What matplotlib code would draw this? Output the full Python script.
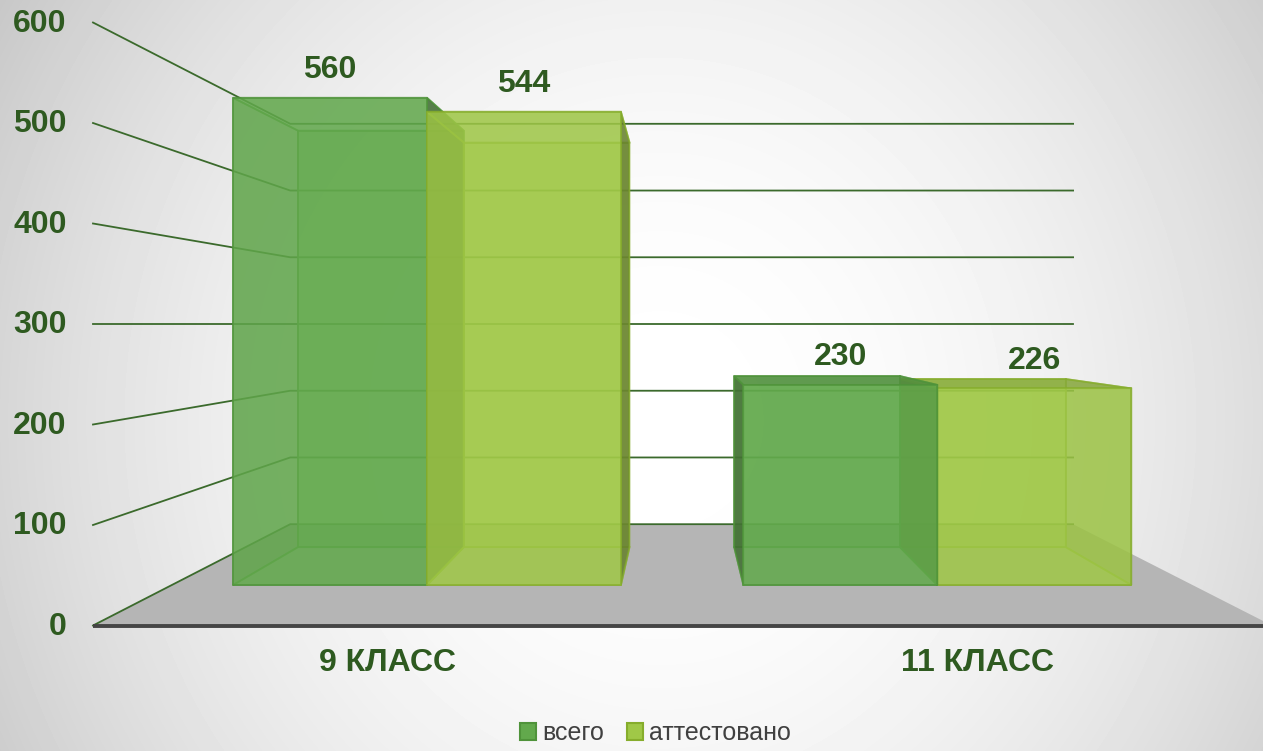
import numpy as np
import matplotlib.pyplot as plt
from matplotlib.patches import Polygon, Patch
from matplotlib.colors import to_rgb

plt.rcParams['font.family'] = ['Liberation Sans', 'DejaVu Sans']

categories = ["9 КЛАСС", "11 КЛАСС"]
series = ["всего", "аттестовано"]
vsego = [560, 230]
attest = [544, 226]
yticks = [0, 100, 200, 300, 400, 500, 600]

W, H = 1263, 751
# perspective set-up (screen pixels)
VX, EYE_Y, EYE_V = 680, 324, 300   # vanishing x, horizon y, value at eye level
PX = 1.005                          # px per unit on the front plane
K = 0.506                           # depth shrink
FX0, FX1 = 93, 1272                 # floor span on front plane
BW = 0.38                           # bar width (category units)
D0, D1 = 0.306, 0.694               # bar depth range

base_cols = ["#62a94c", "#a0c847"]
edge_cols = ["#4f933a", "#86ad2c"]
txt_col = "#2e5a20"


def proj(c, v, d):
    X = FX0 + (FX1 - FX0) * c / len(categories)
    Y = EYE_Y - (v - EYE_V) * PX
    s = 1.0 / (1.0 + K * d)
    return VX + (X - VX) * s, EYE_Y + (Y - EYE_Y) * s


def shade(col, f):
    r, g, b = to_rgb(col)
    return (r * f, g * f, b * f)


fig = plt.figure(figsize=(W / 100, H / 100), dpi=100)
ax = fig.add_axes([0, 0, 1, 1])
ax.set_xlim(0, W)
ax.set_ylim(H, 0)
ax.axis("off")

# background gradient
yy, xx = np.mgrid[0:H, 0:W]
r = np.sqrt(((xx - 660) / 660.0) ** 2 + ((yy - 420) / 700.0) ** 2)
bg = 1 - 0.16 * np.clip(r, 0, 1.3) ** 2
ax.imshow(bg, cmap="gray", vmin=0, vmax=1, extent=(0, W, H, 0), zorder=0, aspect="auto")

# floor
nc = len(categories)
floor = [proj(0, 0, 0), proj(nc, 0, 0), proj(nc, 0, 1), proj(0, 0, 1)]
ax.add_patch(Polygon(floor, closed=True, fc="#b5b5b5", ec="none", zorder=1))

# gridlines: left wall + back wall
for t in yticks:
    pts = [proj(0, t, 0), proj(0, t, 1), proj(nc, t, 1)]
    ax.plot([p[0] for p in pts], [p[1] for p in pts], color="#3b6a2c", lw=1.3, zorder=2)

# front axis line
a0, a1 = proj(0, 0, 0), proj(nc, 0, 0)
ax.plot([a0[0], a1[0]], [a0[1], a1[1]], color="#454545", lw=2.8, zorder=2, solid_capstyle="butt")

# bars
bars = []
for i in range(nc):
    for j, vals in enumerate([vsego, attest]):
        c0 = i + 0.5 - BW + j * BW
        bars.append((c0, c0 + BW, vals[i], j))
bars.sort(key=lambda b: -abs(proj((b[0] + b[1]) / 2, 0, 0)[0] - VX))

z = 3
for c0, c1, val, j in bars:
    col = base_cols[j]
    faces = {
        "front": [(c0, 0, D0), (c1, 0, D0), (c1, val, D0), (c0, val, D0)],
        "back": [(c0, 0, D1), (c1, 0, D1), (c1, val, D1), (c0, val, D1)],
        "left": [(c0, 0, D0), (c0, 0, D1), (c0, val, D1), (c0, val, D0)],
        "right": [(c1, 0, D0), (c1, 0, D1), (c1, val, D1), (c1, val, D0)],
        "top": [(c0, val, D0), (c1, val, D0), (c1, val, D1), (c0, val, D1)],
        "bottom": [(c0, 0, D0), (c1, 0, D0), (c1, 0, D1), (c0, 0, D1)],
    }
    visible = {
        "front": True, "back": False, "bottom": False,
        "left": proj(c0, 0, 0)[0] > VX,
        "right": proj(c1, 0, 0)[0] < VX,
        "top": val < EYE_V,
    }
    factor = {"front": 1.0, "back": 1.0, "bottom": 0.95,
              "left": 0.62, "right": 0.62, "top": 0.85}
    order = [f for f in faces if not visible[f]] + [f for f in ["left", "right", "top", "front"] if visible[f]]
    for f in order:
        pts = [proj(*p) for p in faces[f]]
        if visible[f]:
            a = 0.8
        elif f == "back":
            a = 0.65
        else:
            a = 0.3
        ax.add_patch(Polygon(pts, closed=True, fc=shade(col, factor[f]), alpha=a,
                             ec="none", zorder=z))
        ax.add_patch(Polygon(pts, closed=True, fc="none", ec=edge_cols[j], lw=1.3,
                             alpha=0.7, zorder=z + 0.5))
        z += 1

# value labels
for c0, c1, val, j in bars:
    x, y = proj((c0 + c1) / 2, val, D0)
    ax.annotate(str(val), (x, y), xytext=(0, 20), textcoords="offset points",
                ha="center", va="center", fontsize=23, fontweight="bold",
                color=txt_col, zorder=100)

# category labels
for i, name in enumerate(categories):
    x, y = proj(i + 0.5, 0, 0)
    ax.annotate(name, (x, y), xytext=(0, -27), textcoords="offset points",
                ha="center", va="center", fontsize=23, fontweight="bold",
                color=txt_col, zorder=100)

# value axis labels
for t in yticks:
    x, y = proj(0, t, 0)
    ax.annotate(str(t), (x, y), xytext=(-19, -1), textcoords="offset points",
                ha="right", va="center", fontsize=23, fontweight="bold",
                color=txt_col, zorder=100)

handles = [Patch(fc=base_cols[k], ec=edge_cols[k], lw=1.5, label=series[k]) for k in range(2)]
ax.legend(handles=handles, loc="center", bbox_to_anchor=(0.519, 0.024), ncol=2,
          frameon=False, fontsize=18, handlelength=0.65, handleheight=0.65,
          handletextpad=0.25, columnspacing=0.9, labelcolor="#404040")

fig.savefig("out.png", dpi=100)
